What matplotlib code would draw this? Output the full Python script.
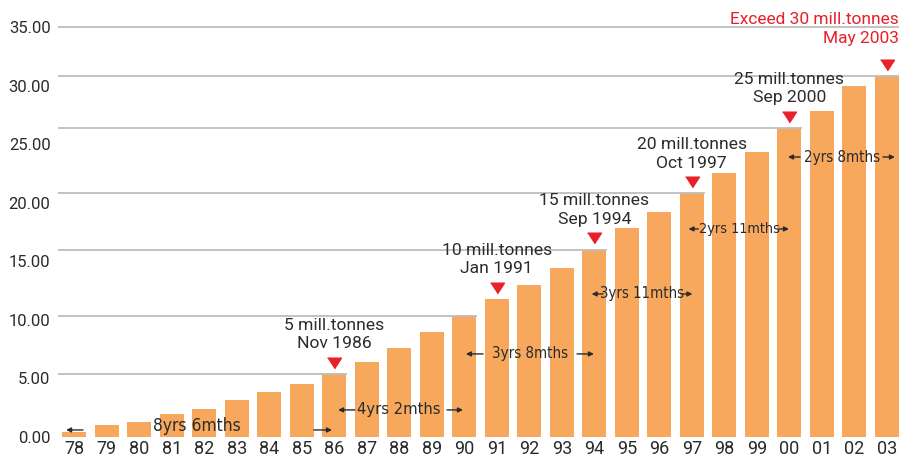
import matplotlib.pyplot as plt
from matplotlib.transforms import offset_copy
from matplotlib import font_manager

# data (million tonnes)
years = ['78', '79', '80', '81', '82', '83', '84', '85', '86', '87', '88', '89', '90',
         '91', '92', '93', '94', '95', '96', '97', '98', '99', '00', '01', '02', '03']
tonnes = [0.4, 1.0, 1.3, 2.0, 2.4, 3.2, 3.8, 4.5, 5.4, 6.4, 7.6, 9.0, 10.3,
          11.8, 13.0, 14.4, 16.0, 17.8, 19.2, 20.8, 22.5, 24.3, 26.4, 27.8, 30.0, 30.8]

# milestones (bar index, two label lines)
ms_idx = [8, 13, 16, 19, 22]
ms_line1 = ['5 mill.tonnes', '10 mill.tonnes', '15 mill.tonnes', '20 mill.tonnes', '25 mill.tonnes']
ms_line2 = ['Nov 1986', 'Jan 1991', 'Sep 1994', 'Oct 1997', 'Sep 2000']
last_idx = 25
last_line1 = 'Exceed 30 mill.tonnes'
last_line2 = 'May 2003'

# gridlines run from the axis to the top of these bars
grid_bars = [8, 12, 16, 19, 22, 25]

# time between milestones
spans = ['8yrs 6mths', '4yrs 2mths', '3yrs 8mths', '3yrs 11mths', '2yrs 11mths', '2yrs 8mths']
# left head, left tail, text x, right tail, right head, arrow y, text y
span_pos = [(-0.25, 0.27, 3.76, 7.37, 7.93, 0.6, 0.94),
            (8.12, 8.64, 9.98, 11.47, 11.96, 2.31, 2.31),
            (12.05, 12.58, 14.02, 15.47, 15.99, 7.09, 7.09),
            (15.92, 16.27, 17.46, 18.69, 19.02, 12.21, 12.21),
            (18.9, 19.2, 20.48, 21.68, 21.99, 17.76, 17.76),
            (21.96, 22.33, 23.63, 24.88, 25.25, 23.9, 23.9)]
span_size = [12.5, 11.8, 10.8, 10.7, 10.4, 10.8]

orange = '#F7A85C'
red = '#E8202A'
dark = '#2b2b2b'
grey = '#BDBDBD'

# look for a regular condensed sans face for the interval labels
narrow = None
for f in font_manager.fontManager.ttflist:
    nm = f.name.lower()
    st = str(f.stretch).lower()
    cond = 'condensed' in nm or 'narrow' in nm or 'condensed' in st
    if cond and f.weight in (400, 'normal', 'regular', 'book') and f.style == 'normal' \
            and 'serif' not in nm and 'mono' not in nm:
        narrow = f.fname
        break

plt.rcParams['font.family'] = ['Roboto', 'DejaVu Sans']

fig = plt.figure(figsize=(9.13, 4.58), dpi=100)
ax = fig.add_axes([57.5 / 913, 21 / 458, 841 / 913, 427.6 / 458])
ax.set_xlim(-0.514, 25.36)
ax.set_ylim(0, 36.5)

x = list(range(len(years)))
ax.bar(x, tonnes, width=0.73, color=orange, zorder=2)

# gridlines
ax.plot([-0.514, 25.36], [35, 35], color=grey, lw=1.3, zorder=1)
for i in grid_bars:
    ax.plot([-0.514, i + 0.365], [tonnes[i], tonnes[i]], color=grey, lw=1.3, zorder=3)

ax.set_yticks(range(0, 36, 5))
ax.set_yticklabels(['%.2f' % v for v in range(0, 36, 5)], fontsize=12, color=dark)
ax.set_xticks(x)
ax.set_xticklabels(years, fontsize=13, color=dark)
ax.tick_params(axis='y', length=0, pad=5)
ax.tick_params(axis='x', length=0, pad=2)
for s in ax.spines.values():
    s.set_visible(False)

tri = [(-0.65, 0.5), (0.65, 0.5), (0, -0.5)]
tri_tr = offset_copy(ax.transData, fig=fig, y=8, units='points')
for i in ms_idx + [last_idx]:
    ax.plot(i, tonnes[i], marker=tri, markersize=10, color=red, transform=tri_tr,
            clip_on=False, zorder=4)

for i, l1, l2 in zip(ms_idx, ms_line1, ms_line2):
    ax.annotate(l2, (i, tonnes[i]), xytext=(0, 21.5), textcoords='offset points',
                ha='center', va='center', fontsize=12.6, color=dark)
    ax.annotate(l1, (i, tonnes[i]), xytext=(0, 35), textcoords='offset points',
                ha='center', va='center', fontsize=12.6, color=dark)

ax.annotate(last_line2, (last_idx + 0.365, tonnes[last_idx]), xytext=(0, 27),
            textcoords='offset points', ha='right', va='center', fontsize=12.5, color=red)
ax.annotate(last_line1, (last_idx + 0.365, tonnes[last_idx]), xytext=(0, 40.5),
            textcoords='offset points', ha='right', va='center', fontsize=12.5, color=red,
            annotation_clip=False)

arrow = dict(arrowstyle='-|>', color=dark, lw=1.0, mutation_scale=7, shrinkA=0, shrinkB=0)
for label, (lh, lt, tx, rt, rh, ay, ty), sz in zip(spans, span_pos, span_size):
    ax.annotate('', xy=(lh, ay), xytext=(lt, ay), arrowprops=arrow, zorder=4)
    ax.annotate('', xy=(rh, ay), xytext=(rt, ay), arrowprops=arrow, zorder=4)
    if narrow:
        fp = dict(fontproperties=font_manager.FontProperties(fname=narrow, size=sz))
    else:
        fp = dict(family='Roboto', fontsize=sz * 0.85)
    ax.text(tx, ty, label, ha='center', va='center', color=dark, zorder=4, **fp)

fig.savefig('out.png', dpi=100)
